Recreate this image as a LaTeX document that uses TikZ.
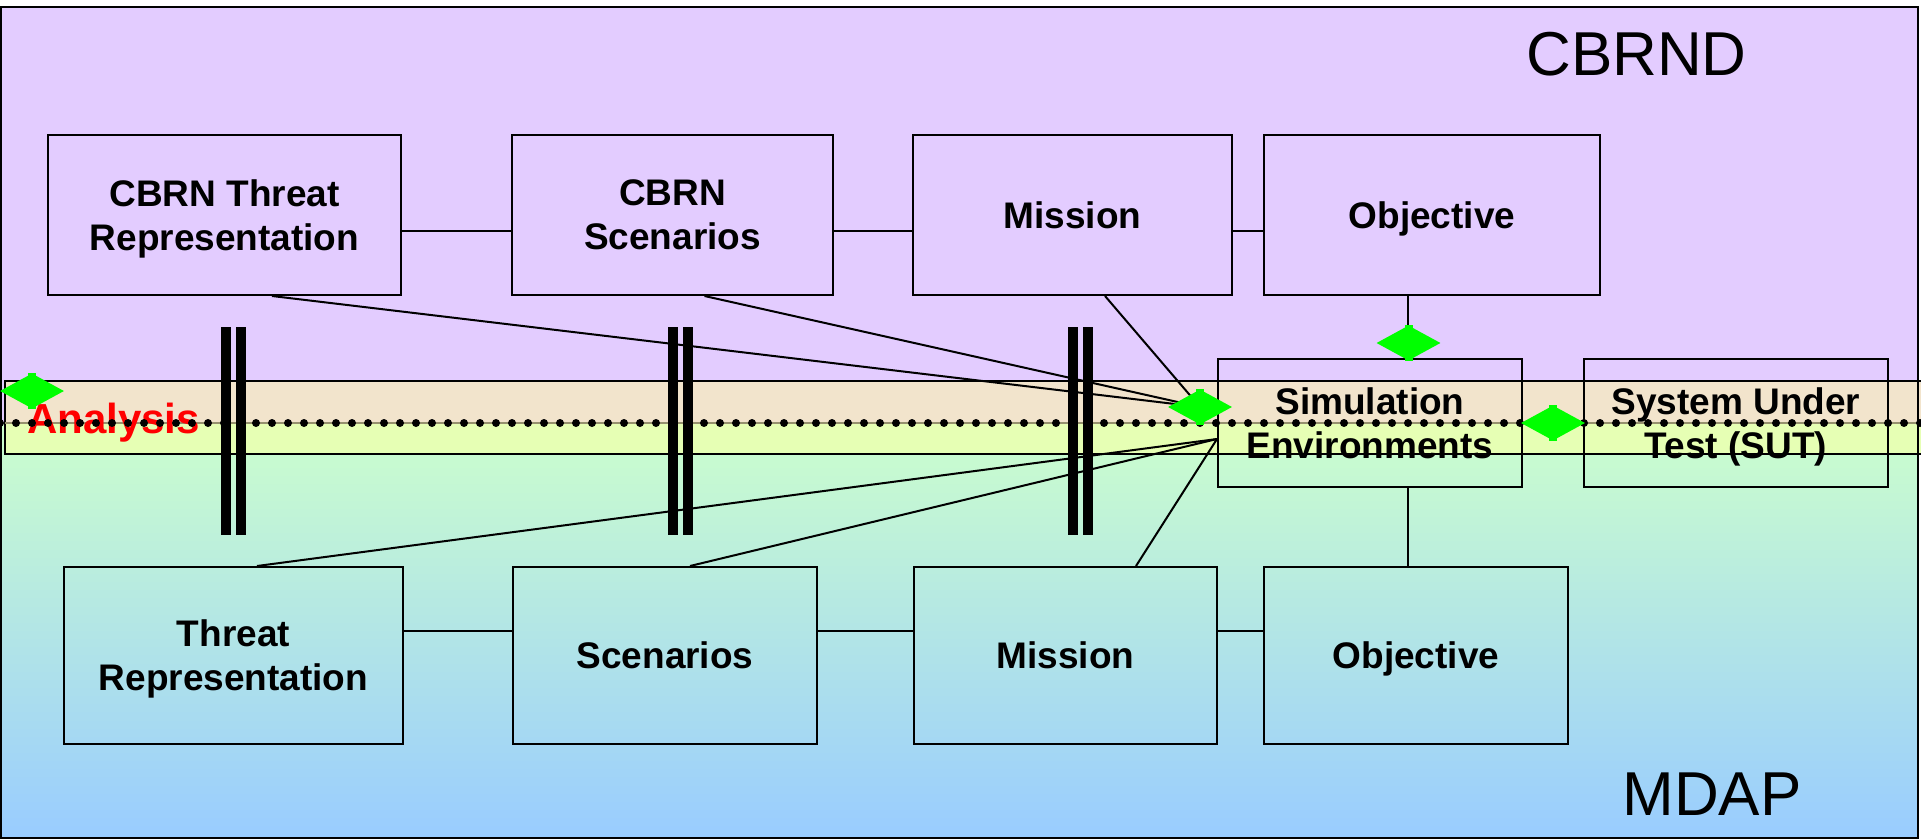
\documentclass[tikz,border=0pt]{standalone}
\usepackage{fontspec}
\setmainfont{Liberation Sans}
\usetikzlibrary{shapes.geometric}
\definecolor{toppurple}{RGB}{227,204,255}
\definecolor{bandtop}{RGB}{242,228,204}
\definecolor{bandbot}{RGB}{230,255,180}
\definecolor{gradtop}{RGB}{204,255,204}
\definecolor{gradbot}{RGB}{153,204,255}
\definecolor{bandline}{RGB}{150,145,110}
\definecolor{dgreen}{RGB}{0,255,0}
\begin{document}
\begin{tikzpicture}[x=1pt,y=-1pt,
  box/.style={draw=black, line width=2pt, inner sep=0pt, align=center, text depth=0pt,
    font=\fontsize{37}{44}\selectfont\bfseries},
  conn/.style={line width=2pt},
  gdiam/.style={diamond, fill=dgreen, inner sep=0pt, minimum width=64pt, minimum height=35pt},
  bigtext/.style={anchor=base, inner sep=0pt, font=\fontsize{62}{62}\selectfont}
]
\useasboundingbox (0,0) rectangle (1921,840);
\fill[white] (0,0) rectangle (1921,840);
% backgrounds
\fill[toppurple] (1,7) rectangle (1918,423);
\shade[top color=gradtop, bottom color=gradbot] (1,423) rectangle (1918,838);
% analysis band
\fill[bandtop] (5,381) rectangle (1921,423);
\fill[bandbot] (5,423) rectangle (1921,454);
\draw[line width=2pt] (1921,381) -- (5,381) -- (5,454) -- (1921,454);
\draw[bandline, line width=2.5pt] (5,423) -- (1921,423);
\node[anchor=base west, inner sep=0pt, text=red, font=\fontsize{42}{42}\selectfont\bfseries] (analysis) at (27,433) {Analysis};
\foreach \k in {0,...,120} \fill ({16*\k},423) circle (4pt);
\draw[line width=2pt] (1,7) rectangle (1918,838);
% labels
\node[bigtext] (cbrnd) at (1636.5,76) {CBRND};
\node[bigtext] (mdap) at (1712,815) {MDAP};
% boxes
\node[box, minimum width=353pt, minimum height=160pt] (cthreat) at (224.5,215) {CBRN Threat\\Representation};
\node[box, minimum width=321pt, minimum height=160pt] (cscen) at (672.5,215) {CBRN\\Scenarios};
\node[box, minimum width=319pt, minimum height=160pt] (cmis) at (1072.5,215) {Mission};
\node[box, minimum width=336pt, minimum height=160pt] (cobj) at (1432,215) {Objective};
\node[box, minimum width=339pt, minimum height=177pt] (threat) at (233.5,655.5) {Threat\\Representation};
\node[box, minimum width=304pt, minimum height=177pt] (scen) at (665,655.5) {Scenarios};
\node[box, minimum width=303pt, minimum height=177pt] (mis) at (1065.5,655.5) {Mission};
\node[box, minimum width=304pt, minimum height=177pt] (obj) at (1416,655.5) {Objective};
\node[box, minimum width=304pt, minimum height=128pt] (simenv) at (1370,423) {Simulation\\Environments};
\node[box, minimum width=304pt, minimum height=128pt] (sut) at (1736,423) {System Under\\Test (SUT)};
% horizontal connectors
\coordinate (ty) at (0,231);
\coordinate (by) at (0,631);
\draw[conn] (cthreat.east |- ty) -- (cscen.west |- ty);
\draw[conn] (cscen.east |- ty) -- (cmis.west |- ty);
\draw[conn] (cmis.east |- ty) -- (cobj.west |- ty);
\draw[conn] (threat.east |- by) -- (scen.west |- by);
\draw[conn] (scen.east |- by) -- (mis.west |- by);
\draw[conn] (mis.east |- by) -- (obj.west |- by);
% diagonal connectors
\coordinate (hubT) at (1200,407);
\draw[conn] ([xshift=47.5pt]cthreat.south) -- (hubT);
\draw[conn] ([xshift=32pt]cscen.south) -- (hubT);
\draw[conn] ([xshift=32.5pt]cmis.south) -- (hubT);
\coordinate (hubB) at ([yshift=-16pt]simenv.west);
\draw[conn] ([xshift=23.5pt]threat.north) -- (hubB);
\draw[conn] ([xshift=25pt]scen.north) -- (hubB);
\draw[conn] ([xshift=70.5pt]mis.north) -- (hubB);
% vertical connectors
\coordinate (vx) at (1408,0);
\draw[conn] (vx |- cobj.south) -- (vx |- simenv.north);
\draw[conn] (vx |- simenv.south) -- (vx |- obj.north);
\draw[conn] (simenv.east) -- (sut.west);
% double bars
\foreach \a in {221,236,668,683,1068,1083} \fill (\a,327) rectangle ++(9.5,208);
% diamonds
\node[gdiam] (d1) at (32,391) {};
\node[gdiam] (d2) at (hubT) {};
\node[gdiam] (d3) at (1408.5,343) {};
\node[gdiam] (d4) at (1553,423) {};
\foreach \d in {d1,d2,d3,d4} {
  \fill[dgreen] ([xshift=-4pt]\d.north) rectangle ([xshift=4pt,yshift=-6pt]\d.north);
  \fill[dgreen] ([xshift=-4pt]\d.south) rectangle ([xshift=4pt,yshift=6pt]\d.south);
}
\end{tikzpicture}
\end{document}
